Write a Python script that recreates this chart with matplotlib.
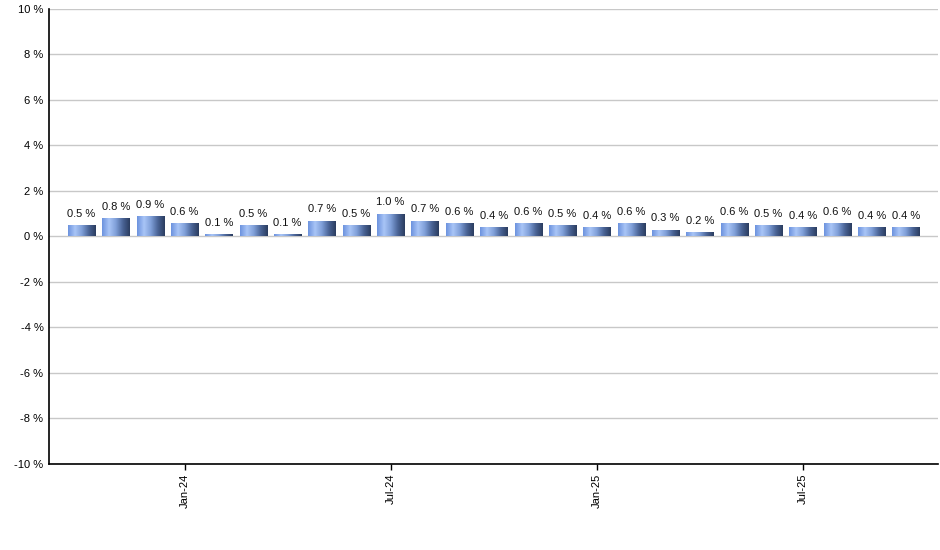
import numpy as np
import matplotlib
matplotlib.use("Agg")
import matplotlib.pyplot as plt
from matplotlib.colors import LinearSegmentedColormap

plt.rcParams['font.family'] = ['Liberation Sans', 'DejaVu Sans']

# monthly values, Oct-23 .. Oct-25
months = ['Oct-23', 'Nov-23', 'Dec-23', 'Jan-24', 'Feb-24', 'Mar-24', 'Apr-24', 'May-24',
          'Jun-24', 'Jul-24', 'Aug-24', 'Sep-24', 'Oct-24', 'Nov-24', 'Dec-24', 'Jan-25',
          'Feb-25', 'Mar-25', 'Apr-25', 'May-25', 'Jun-25', 'Jul-25', 'Aug-25', 'Sep-25', 'Oct-25']
values = [0.5, 0.8, 0.9, 0.6, 0.1, 0.5, 0.1, 0.7, 0.5, 1.0, 0.7, 0.6, 0.4,
          0.6, 0.5, 0.4, 0.6, 0.3, 0.2, 0.6, 0.5, 0.4, 0.6, 0.4, 0.4]
shown_ticks = ['Jan-24', 'Jul-24', 'Jan-25', 'Jul-25']
y_ticks = [-10, -8, -6, -4, -2, 0, 2, 4, 6, 8, 10]

fig = plt.figure(figsize=(9.4, 5.5), dpi=100)
ax = fig.add_axes([0.0521, 0.1564, 0.9457, 0.8273])

x = np.arange(len(values))
bars = ax.bar(x, values, width=0.79, color='none', edgecolor='none', zorder=3)

# horizontal gradient inside each bar
cmap = LinearSegmentedColormap.from_list(
    'barfill', ['#6d93de', '#a9c5f7', '#7f9fd8', '#4a6496', '#2b3d60'])
grad = np.linspace(0, 1, 64).reshape(1, -1)
for b in bars:
    x0, y0 = b.get_x(), b.get_y()
    w, h = b.get_width(), b.get_height()
    im = ax.imshow(grad, cmap=cmap, aspect='auto', extent=[x0, x0 + w, y0, y0 + h],
                   zorder=3, interpolation='bilinear')
    im.set_clip_path(b)

for xi, v in zip(x, values):
    ax.annotate(f'{v:.1f} %', (xi, v), xytext=(0, 4.5), textcoords='offset points',
                ha='center', va='bottom', fontsize=8, color='#111111', zorder=4)

ax.set_xlim(-0.946, 24.93)
ax.set_ylim(-10, 10)
ax.set_yticks(y_ticks)
ax.set_yticklabels([f'{t} %' for t in y_ticks], fontsize=8)
ax.yaxis.grid(True, color='#c8c8c8', linewidth=1, zorder=0)
ax.set_axisbelow(True)

ax.set_xticks([months.index(m) for m in shown_ticks])
ax.set_xticklabels(shown_ticks, rotation=90, fontsize=8)
ax.tick_params(axis='x', length=4, width=1, color='black', pad=3)
ax.tick_params(axis='y', length=0, pad=4)

for s in ['top', 'right']:
    ax.spines[s].set_visible(False)
for s in ['left', 'bottom']:
    ax.spines[s].set_color('black')
    ax.spines[s].set_linewidth(1.2)

fig.savefig('out.png', dpi=100)
